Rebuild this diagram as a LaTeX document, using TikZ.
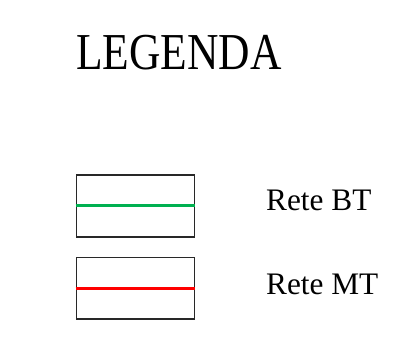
\documentclass[tikz,border=0pt]{standalone}
\usepackage{fontspec}
\setmainfont{Liberation Serif}
\definecolor{btgreen}{RGB}{0,176,80}
\definecolor{boxgray}{RGB}{40,40,40}
\begin{document}
\begin{tikzpicture}[x=1pt,y=-1pt,
  legbox/.style={draw=boxgray,line width=1.6pt},
  legtext/.style={anchor=base west,inner sep=0pt,font=\fontsize{31.3}{36}\selectfont},
  netline/.style={line width=2.8pt}]
\useasboundingbox (0,0) rectangle (416,347);
\node[anchor=base west,inner sep=0pt,font=\fontsize{51.8}{60}\selectfont] (title) at (76,69.3) {\scalebox{0.84}[1]{LEGENDA}};
% BT
\node[legbox,minimum width=118pt,minimum height=62pt,inner sep=0pt,anchor=north west] (bt) at (75.7,174) {};
\draw[netline,btgreen] (bt.west) -- (bt.east);
\node[legtext] (btl) at (266,210.7) {Rete BT};
% MT
\node[legbox,minimum width=118pt,minimum height=61.6pt,inner sep=0pt,anchor=north west] (mt) at (75.7,256.7) {};
\draw[netline,red] (mt.west) -- (mt.east);
\node[legtext] (mtl) at (266,295) {Rete MT};
\end{tikzpicture}
\end{document}
